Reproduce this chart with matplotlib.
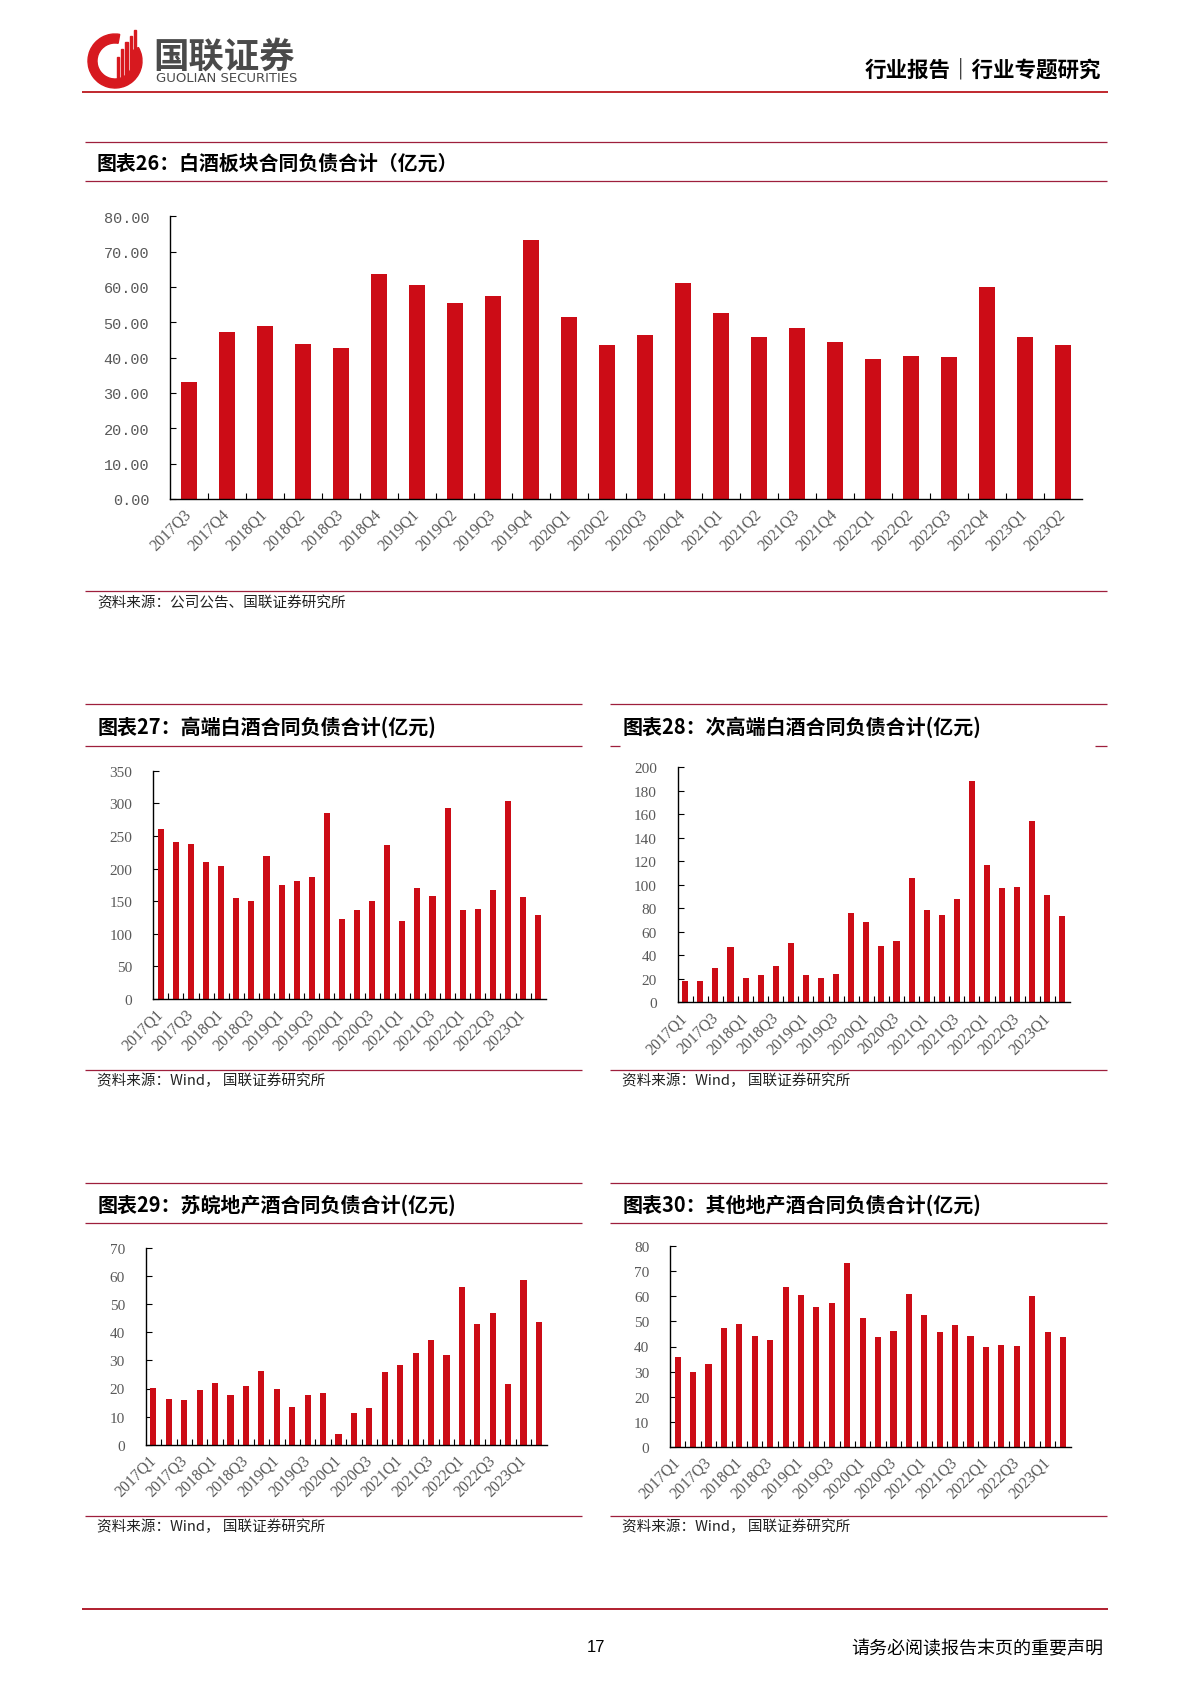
#!/usr/bin/env python
"""Report page 17: contract liabilities of baijiu sub-sectors (bar charts)."""

import matplotlib

matplotlib.use("Agg")
import matplotlib.pyplot as plt
import numpy as np
from matplotlib.patches import Rectangle, Wedge

W, H = 1190, 1683

BAR = "#cc0c16"
RULE = "#9e1f3c"
GREY = "#595959"
CJK = ["Noto Sans CJK SC", "DejaVu Sans"]

plt.rcParams["font.family"] = CJK

# ---- data (亿元) ----
quarters_26 = [
    "2017Q3", "2017Q4", "2018Q1", "2018Q2", "2018Q3", "2018Q4",
    "2019Q1", "2019Q2", "2019Q3", "2019Q4", "2020Q1", "2020Q2",
    "2020Q3", "2020Q4", "2021Q1", "2021Q2", "2021Q3", "2021Q4",
    "2022Q1", "2022Q2", "2022Q3", "2022Q4", "2023Q1", "2023Q2",
]
baijiu_total = [
    33.0, 47.3, 49.0, 44.0, 42.7, 63.7, 60.6, 55.6, 57.4, 73.4, 51.4, 43.7,
    46.3, 61.1, 52.6, 45.8, 48.4, 44.3, 39.7, 40.4, 40.1, 60.0, 45.9, 43.6,
]

quarters = [
    "2017Q1", "2017Q2", "2017Q3", "2017Q4", "2018Q1", "2018Q2", "2018Q3",
    "2018Q4", "2019Q1", "2019Q2", "2019Q3", "2019Q4", "2020Q1", "2020Q2",
    "2020Q3", "2020Q4", "2021Q1", "2021Q2", "2021Q3", "2021Q4", "2022Q1",
    "2022Q2", "2022Q3", "2022Q4", "2023Q1", "2023Q2",
]
high_end = [
    260.6, 241.2, 238.1, 210.0, 203.4, 154.3, 150.2, 218.7, 175.3, 180.4,
    187.0, 285.1, 123.1, 136.4, 150.2, 236.1, 120.1, 169.6, 157.4, 293.3,
    136.4, 138.5, 167.1, 304.0, 155.9, 128.8,
]
sub_high_end = [
    17.9, 17.9, 28.9, 47.1, 20.7, 23.3, 30.6, 50.2, 23.0, 20.4,
    24.1, 75.7, 68.1, 48.2, 51.9, 106.1, 78.6, 74.0, 87.7, 188.1,
    116.6, 97.3, 98.4, 154.6, 91.3, 73.5,
]
su_wan = [
    20.2, 16.1, 15.9, 19.3, 21.8, 17.8, 20.8, 26.3, 19.9, 13.5,
    17.8, 18.5, 3.7, 11.4, 13.0, 25.7, 28.5, 32.5, 37.1, 32.0,
    56.2, 42.9, 46.7, 21.6, 58.7, 43.5,
]
other_regional = [
    35.8, 30.0, 33.0, 47.3, 49.0, 44.0, 42.7, 63.7, 60.6, 55.6,
    57.4, 73.4, 51.4, 43.7, 46.3, 61.1, 52.6, 45.8, 48.4, 44.3,
    39.7, 40.4, 40.1, 60.0, 45.9, 43.6,
]


def px_axes(fig, left, top, right, bottom):
    return fig.add_axes(
        [left / W, 1 - bottom / H, (right - left) / W, (bottom - top) / H]
    )


def bar_panel(ax, labels, values, ymax, ystep, every, yfmt, yfont):
    n = len(values)
    x = np.arange(n)
    ax.bar(x, values, width=0.4, color=BAR, zorder=2)
    ax.set_xlim(-0.5, n - 0.5)
    ax.set_ylim(0, ymax)
    yt = np.arange(0, ymax + ystep / 2, ystep)
    ax.set_yticks(yt)
    ax.set_yticklabels([yfmt.format(v) for v in yt], family=yfont, color=GREY,
                       fontsize=11)
    ax.set_xticks(x[:-1] + 0.5)
    ax.set_xticklabels([])
    ax.set_xticks(x[::every], minor=True)
    ax.set_xticklabels(labels[::every], minor=True, rotation=45, ha="right",
                       va="center", rotation_mode="anchor",
                       family="Liberation Serif", color=GREY, fontsize=11.3)
    ax.tick_params(axis="x", which="major", direction="in", length=4, width=0.8)
    ax.tick_params(axis="x", which="minor", length=0, pad=9)
    ax.tick_params(axis="y", direction="in", length=4, width=0.8, pad=15)
    for s in ("top", "right"):
        ax.spines[s].set_visible(False)
    for s in ("left", "bottom"):
        ax.spines[s].set_linewidth(1.0)
        ax.spines[s].set_color("black")


def rule(page, x0, x1, y, color=RULE, lw=0.9):
    page.plot([x0, x1], [y, y], color=color, lw=lw, solid_capstyle="butt")


def main() -> None:
    fig = plt.figure(figsize=(W / 100, H / 100), dpi=100)
    page = fig.add_axes([0, 0, 1, 1], zorder=-1)
    page.set_xlim(0, W)
    page.set_ylim(H, 0)
    page.axis("off")

    # header / logo
    page.add_patch(Wedge((115, 62), 27, -30, 280, width=9, color="#d7191f"))
    for i, top in enumerate([58, 50, 43, 37, 31]):
        page.add_patch(Rectangle((117 + 4.2 * i, top), 2.2, 84 - top - 2 * i,
                                 color="#d7191f"))
    page.text(153, 57, "国联证券", fontsize=25.5, fontweight="bold",
              color="#4a4a4a", va="center", ha="left")
    page.text(156, 78, "GUOLIAN SECURITIES", fontsize=9.5, color="#4a4a4a",
              va="center", ha="left", family="DejaVu Sans")
    page.text(1101, 70, "行业报告｜行业专题研究", fontsize=15.5, fontweight="bold",
              va="center", ha="right")
    rule(page, 82, 1108, 93, color="#c0282d", lw=1.4)

    # footer
    rule(page, 82, 1108, 1610, color="#b01e2e", lw=1.4)
    page.text(596, 1648, "17", fontsize=12, family="Liberation Sans",
              va="center", ha="center")
    page.text(1103, 1649, "请务必阅读报告末页的重要声明", fontsize=13,
              va="center", ha="right")

    # chart 26 frame
    rule(page, 85, 1107, 142.5)
    rule(page, 85, 1107, 182.3)
    rule(page, 85, 1107, 591.7)
    page.text(97, 163, "图表26：白酒板块合同负债合计（亿元）", fontsize=14.3,
              fontweight="bold", va="center", ha="left")
    page.text(97, 603, "资料来源：公司公告、国联证券研究所", fontsize=10.5,
              va="center", ha="left", color="#222222")

    ax = px_axes(fig, 170, 217.3, 1082, 500)
    bar_panel(ax, quarters_26, baijiu_total, 80, 10, 1, "{:.2f}",
              "Liberation Mono")

    # small charts
    panels = [
        (85, 581.7, 98, "图表27：高端白酒合同负债合计(亿元)", 705, 746.7, 1070.7,
         (153.3, 771.7, 545.7, 1000), high_end, 350, 50, True),
        (610, 1106.7, 622.7, "图表28：次高端白酒合同负债合计(亿元)", 705, 746.7,
         1070.7, (677.7, 768.3, 1070, 1003.3), sub_high_end, 200, 20, False),
        (85, 581.7, 98, "图表29：苏皖地产酒合同负债合计(亿元)", 1184.3, 1224,
         1516.7, (145.7, 1249, 546.7, 1445.7), su_wan, 70, 10, True),
        (610, 1106.7, 622.7, "图表30：其他地产酒合同负债合计(亿元)", 1184.3, 1224,
         1516.7, (670, 1247.3, 1070.7, 1447.7), other_regional, 80, 10, True),
    ]
    for x0, x1, tx, title, ytop, yunder, ysrc, box, vals, ymax, ystep, full in panels:
        rule(page, x0, x1, ytop)
        if full:
            rule(page, x0, x1, yunder)
        else:
            rule(page, x0, x0 + 10, yunder)
            rule(page, x1 - 12, x1, yunder)
        rule(page, x0, x1, ysrc)
        page.text(tx, (ytop + yunder) / 2 + 1, title, fontsize=14.4,
                  fontweight="bold", va="center", ha="left")
        page.text(x0 + 12, ysrc + 10.5, "资料来源：Wind， 国联证券研究所",
                  fontsize=10.5, va="center", ha="left", color="#222222")
        ax = px_axes(fig, *box)
        bar_panel(ax, quarters, vals, ymax, ystep, 2, "{:.0f}",
                  "Liberation Serif")

    fig.savefig("out.png", dpi=100)


if __name__ == "__main__":
    main()
